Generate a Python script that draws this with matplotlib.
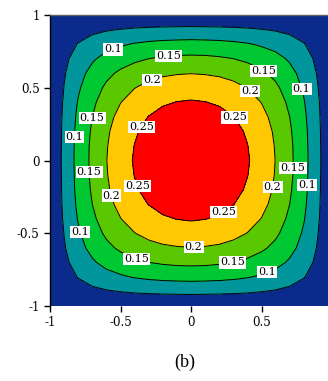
import numpy as np
import matplotlib.pyplot as plt

# values of the field on one quadrant, rows y = 0..1, cols x = 0..1 (step 0.1)
grid_step = 0.1
quadrant = [
    [0.295, 0.292, 0.285, 0.272, 0.254, 0.229, 0.199, 0.161, 0.116, 0.063, 0.0],
    [0.292, 0.290, 0.282, 0.270, 0.251, 0.228, 0.197, 0.160, 0.115, 0.062, 0.0],
    [0.285, 0.282, 0.275, 0.263, 0.245, 0.222, 0.193, 0.156, 0.113, 0.061, 0.0],
    [0.272, 0.270, 0.263, 0.251, 0.235, 0.213, 0.185, 0.150, 0.109, 0.059, 0.0],
    [0.254, 0.251, 0.245, 0.235, 0.219, 0.199, 0.173, 0.141, 0.103, 0.056, 0.0],
    [0.229, 0.228, 0.222, 0.213, 0.199, 0.181, 0.158, 0.129, 0.094, 0.051, 0.0],
    [0.199, 0.197, 0.193, 0.185, 0.173, 0.158, 0.139, 0.114, 0.084, 0.046, 0.0],
    [0.161, 0.160, 0.156, 0.150, 0.141, 0.129, 0.114, 0.094, 0.070, 0.039, 0.0],
    [0.116, 0.115, 0.113, 0.109, 0.103, 0.094, 0.084, 0.070, 0.052, 0.030, 0.0],
    [0.063, 0.062, 0.061, 0.059, 0.056, 0.051, 0.046, 0.039, 0.030, 0.018, 0.0],
    [0.0, 0.0, 0.0, 0.0, 0.0, 0.0, 0.0, 0.0, 0.0, 0.0, 0.0],
]

outer_level = [0.05]
label_levels = [0.1, 0.15, 0.2, 0.25]
fill_colors = ["#0a2a8c", "#00969b", "#00c832", "#5ac800", "#ffc800", "#ff0000"]

# where the labels sit
label_pos = [(-0.55, 0.75), (-0.16, 0.71), (0.51, 0.61), (0.77, 0.49),
             (-0.27, 0.53), (0.41, 0.47), (-0.68, 0.29), (-0.82, 0.16),
             (-0.35, 0.23), (0.30, 0.29), (-0.71, -0.08), (0.72, -0.05),
             (0.81, -0.17), (0.56, -0.18), (-0.37, -0.17), (-0.56, -0.24),
             (-0.78, -0.49), (0.24, -0.37), (0.02, -0.62), (-0.39, -0.69),
             (0.30, -0.73), (0.55, -0.79)]

ticks = [-1, -0.5, 0, 0.5, 1]
tick_labels = ["-1", "-0.5", "0", "0.5", "1"]
caption = "(b)"

#%% build full field by mirroring the quadrant
q = np.array(quadrant)
half = np.vstack([q[::-1], q[1:]])
Z = np.hstack([half[:, ::-1], half[:, 1:]])
n = q.shape[0]
coords = np.arange(-(n - 1), n) * grid_step
X, Y = np.meshgrid(coords, coords)

#%% plot
fig = plt.figure(figsize=(3.28, 3.81), dpi=100)
ax = fig.add_axes([50/328, 75/381, 282/328, 291/381])

ax.contourf(X, Y, Z, levels=[-1] + outer_level + label_levels + [1], colors=fill_colors)
ax.contour(X, Y, Z, levels=outer_level, colors="k", linewidths=0.7)
cs = ax.contour(X, Y, Z, levels=label_levels, colors="k", linewidths=0.7)
texts = ax.clabel(cs, manual=label_pos, inline=False,
                  fontsize=8, fmt=lambda v: f"{v:g}", colors="k")
for t in texts:
    t.set_rotation(0)
    t.set_fontfamily("DejaVu Serif")
    t.set_bbox(dict(facecolor="white", edgecolor="none", pad=0.8))

ax.set_xlim(-1, 1)
ax.set_ylim(-1, 1)
ax.set_xticks(ticks)
ax.set_xticklabels(tick_labels, fontfamily="DejaVu Serif", fontsize=8.5)
ax.set_yticks(ticks)
ax.set_yticklabels(tick_labels, fontfamily="DejaVu Serif", fontsize=8.5)
ax.tick_params(direction="out", length=4.5, width=1, pad=3)

ax.spines["left"].set_color("k")
ax.spines["left"].set_linewidth(1)
ax.spines["top"].set_color("#606060")
ax.spines["top"].set_linewidth(1)
ax.spines["bottom"].set_visible(False)
ax.spines["right"].set_visible(False)

fig.text(185/328, 1 - 362/381, caption, ha="center", va="center",
         fontfamily="Liberation Serif", fontsize=13)

fig.savefig("out.png", dpi=100)
